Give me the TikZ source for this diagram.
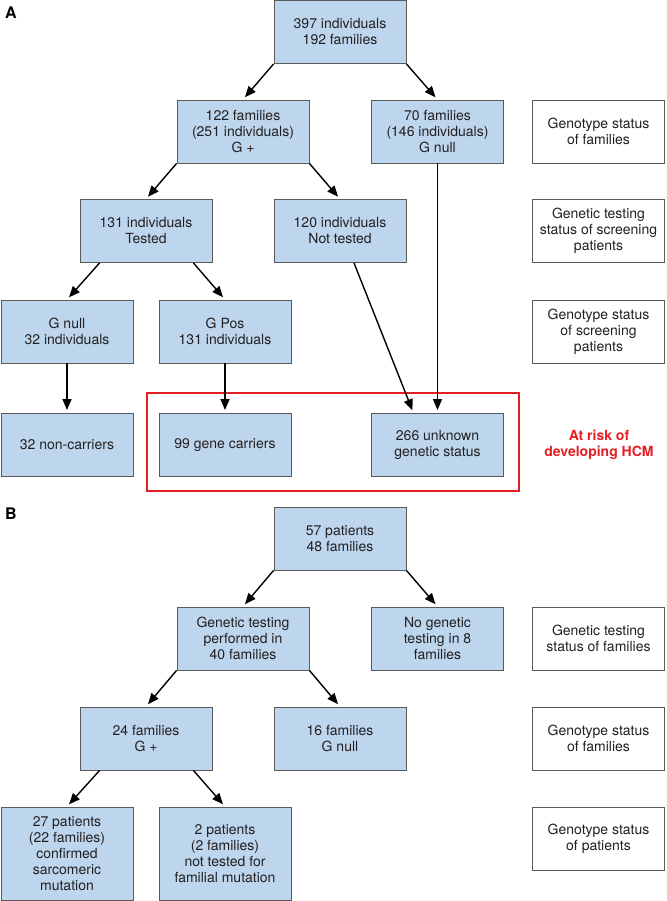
\documentclass[tikz,border=0pt]{standalone}
\usepackage{fontspec}
\setmainfont{TeX Gyre Heros}
\usetikzlibrary{arrows.meta}
\definecolor{boxfill}{HTML}{BDD6EE}
\definecolor{boxline}{HTML}{5A5A5A}
\definecolor{txt}{HTML}{231F20}
\definecolor{riskred}{HTML}{E31E24}
\tikzset{
  bluebox/.style={draw=boxline, line width=0.9pt, fill=boxfill, minimum width=132pt, minimum height=63pt, inner sep=0pt, align=center, text=txt, font=\fontsize{14}{16}\selectfont},
  labelbox/.style={bluebox, fill=white},
  tallbox/.style={bluebox, minimum height=93pt},
  arr/.style={line width=1.4pt, draw=black, -{Triangle[length=11pt,width=9pt]}, shorten >=3pt},
  panel/.style={font=\fontsize{16}{18}\selectfont\bfseries, text=black, inner sep=0pt},
  risktext/.style={text=riskred, align=center, font=\fontsize{14}{16}\selectfont\bfseries}
}
\begin{document}
\begin{tikzpicture}[x=1pt,y=-1pt]
\useasboundingbox (0,0) rectangle (666,901);
% ---------- Panel A ----------
\node[panel] (pa) at (11,13) {A};
\node[bluebox] (t1) at (340,32) {397 individuals\\192 families};
\node[bluebox] (gpos) at (243,131.5) {122 families\\(251 individuals)\\G +};
\node[bluebox] (gnull) at (437.5,131.5) {70 families\\(146 individuals)\\G null};
\node[labelbox] (l1) at (598.5,131.5) {Genotype status\\of families};
\node[bluebox] (tested) at (146,231) {131 individuals\\Tested};
\node[bluebox] (nottested) at (340,231) {120 individuals\\Not tested};
\node[labelbox] (l2) at (598.5,231) {Genetic testing\\status of screening\\patients};
\node[bluebox] (inull) at (67,331.5) {G null\\32 individuals};
\node[bluebox] (ipos) at (225,331.5) {G Pos\\131 individuals};
\node[labelbox] (l3) at (598.5,331.5) {Genotype status\\of screening\\patients};
\node[bluebox] (noncar) at (67,445) {32 non-carriers};
\node[bluebox] (carr) at (225,445) {99 gene carriers};
\node[bluebox] (unk) at (437.5,445) {266 unknown\\genetic status};
\node[draw=riskred, line width=1.3pt, minimum width=372pt, minimum height=98pt, inner sep=0pt] (risk) at (333,442) {};
\node[risktext] (risktxt) at (599,445) {At risk of\\developing HCM};
\draw[arr] (t1.south west) -- (gpos.north);
\draw[arr] (t1.south east) -- (gnull.north);
\draw[arr] (gpos.south west) -- (tested.north);
\draw[arr] (gpos.south east) -- (nottested.north);
\draw[arr] (gnull.south) -- (unk.north);
\draw[arr] ([xshift=14pt]nottested.south) -- ([xshift=-24pt]unk.north);
\draw[arr] ([xshift=20pt]tested.south west) -- (inull.north);
\draw[arr] ([xshift=-19pt]tested.south east) -- (ipos.north);
\draw[arr] (inull.south) -- (noncar.north);
\draw[arr] (ipos.south) -- (carr.north);
% ---------- Panel B ----------
\node[panel] (pb) at (11,514) {B};
\node[bluebox] (p1) at (340,538.5) {57 patients\\48 families};
\node[bluebox] (gt) at (243,638.5) {Genetic testing\\performed in\\40 families};
\node[bluebox] (nogt) at (437.5,638.5) {No genetic\\testing in 8\\families};
\node[labelbox] (l4) at (598.5,638.5) {Genetic testing\\status of families};
\node[bluebox] (f24) at (146,738.5) {24 families\\G +};
\node[bluebox] (f16) at (340,738.5) {16 families\\G null};
\node[labelbox] (l5) at (598.5,738.5) {Genotype status\\of families};
\node[tallbox] (p27) at (67,853.5) {27 patients\\(22 families)\\confirmed\\sarcomeric\\mutation};
\node[tallbox] (p2) at (225,853.5) {2 patients\\(2 families)\\not tested for\\familial mutation};
\node[labelbox] (l6) at (598.5,838.5) {Genotype status\\of patients};
\draw[arr] (p1.south west) -- (gt.north);
\draw[arr] (p1.south east) -- (nogt.north);
\draw[arr] (gt.south west) -- (f24.north);
\draw[arr] (gt.south east) -- (f16.north);
\draw[arr] ([xshift=20pt]f24.south west) -- (p27.north);
\draw[arr] ([xshift=-19pt]f24.south east) -- (p2.north);
\end{tikzpicture}
\end{document}
